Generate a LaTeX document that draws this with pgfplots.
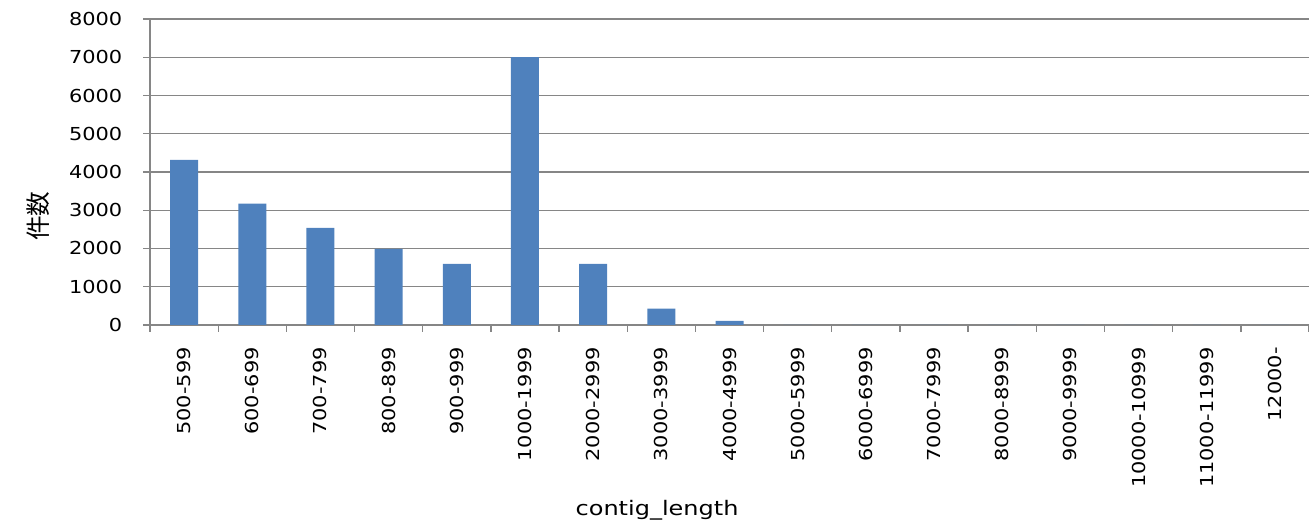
\documentclass[border=0pt]{standalone}
\usepackage{pgfplots}
\pgfplotsset{compat=1.18}
\usepackage{fontspec}
\setmainfont{DejaVu Sans}
\newfontfamily\tickfont[FakeStretch=1.17]{DejaVu Sans}
\newfontfamily\labfont[FakeStretch=1.2]{DejaVu Sans}
\newfontfamily\cjk{Noto Sans CJK JP}
\definecolor{barblue}{HTML}{4F81BD}
\definecolor{gridgray}{HTML}{868686}
\begin{document}
\begin{tikzpicture}
\path[use as bounding box] (0,0) rectangle (981.75pt,392.25pt);
\begin{axis}[
  at={(112.5pt,148.5pt)}, anchor=south west,
  scale only axis,
  width=869.25pt, height=229.5pt,
  ybar, bar width=21pt,
  xmin=-0.5, xmax=16.5,
  ymin=0, ymax=8000,
  ytick={0,1000,...,8000},
  xtick={0,...,16},
  xticklabels={500-599,600-699,700-799,800-899,900-999,1000-1999,2000-2999,3000-3999,4000-4999,5000-5999,6000-6999,7000-7999,8000-8999,9000-9999,10000-10999,11000-11999,12000-},
  minor xtick={-0.5,0.5,...,16.5},
  axis x line*=bottom, axis y line*=left,
  axis line style={gridgray, line width=1pt, -},
  ymajorgrids, major grid style={gridgray, line width=1pt},
  tick align=outside,
  major x tick style={draw=none},
  major y tick style={gridgray, line width=1pt},
  minor x tick style={gridgray, line width=1pt},
  major tick length=5.25pt, minor tick length=5.25pt,
  scaled y ticks=false,
  /pgf/number format/assume math mode=true,
  yticklabel style={font=\tickfont\fontsize{13.4}{16}\selectfont, xshift=-12pt},
  xticklabel style={font=\tickfont\fontsize{13.4}{16}\selectfont, rotate=90, anchor=east, xshift=-8pt},
  y tick label style={/pgf/number format/.cd, fixed, 1000 sep={}},
  xlabel={contig\_length},
  xlabel style={at={(axis description cs:0.4375,-0.605)}, anchor=center, font=\labfont\fontsize{15}{18}\selectfont},
  ylabel={\cjk 件数},
  ylabel style={at={(axis description cs:-0.0966,0.356)}, anchor=center, font=\fontsize{18.5}{22}\selectfont},
]
\addplot[fill=barblue, draw=none] coordinates {
  (0,4320) (1,3170) (2,2540) (3,1990) (4,1600) (5,7000) (6,1600) (7,430) (8,110)
  (9,0) (10,0) (11,0) (12,0) (13,0) (14,0) (15,0) (16,0)
};
\end{axis}
\end{tikzpicture}
\end{document}
